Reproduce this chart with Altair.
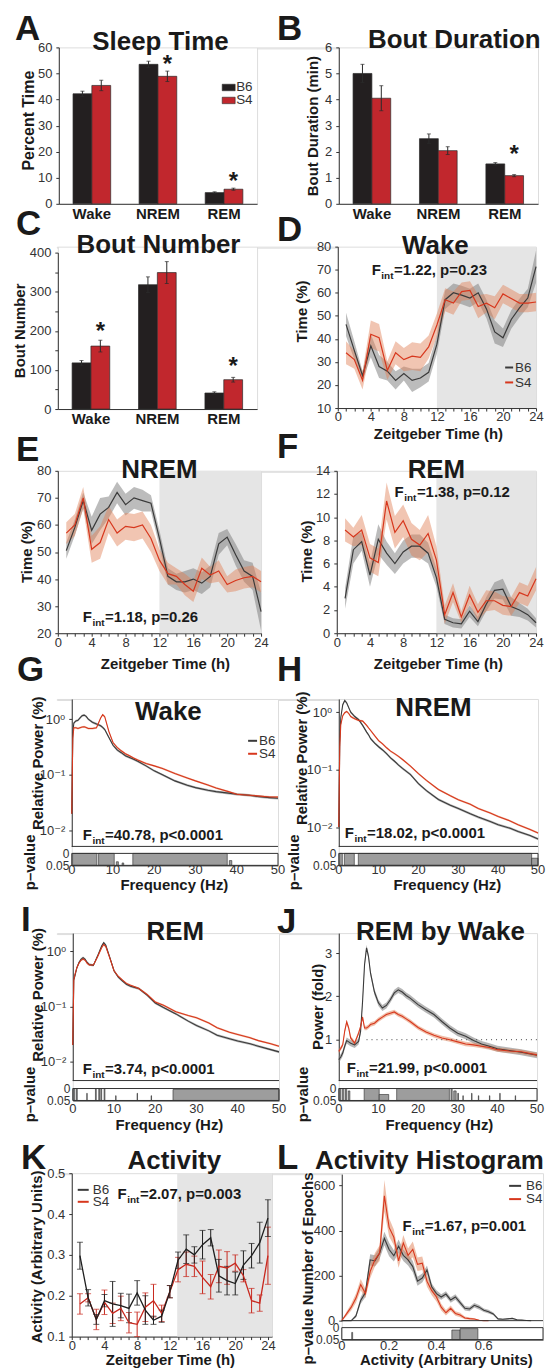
import altair as alt
import pandas as pd

FONT = "Liberation Sans"
LFONT = "Liberation Sans, DejaVu Sans"
INK = "#1a1a1a"
AXC = "#333333"
B6_BAR = "#231f20"
S4_BAR = "#c1272d"
B6_LINE = "#3a3a3a"
B6_BAND = "#7a7a7a"
S4_LINE = "#d7371d"
S4_BAND = "#e07f55"
SHADE = "#e5e5e5"
STRIP_FILL = "#9d9d9d"

# ---------------------------------------------------------------- data
states = ["Wake", "NREM", "REM"]
strains = ["B6", "S4"]

sleep_b6 = [42.2, 53.5, 4.3]
sleep_b6_err = [1.0, 1.2, 0.3]
sleep_s4 = [45.4, 48.9, 5.6]
sleep_s4_err = [2.0, 2.0, 0.4]
sleep_star = [None, 55.4, 10.7]

dur_b6 = [5.0, 2.5, 1.53]
dur_b6_err = [0.35, 0.18, 0.05]
dur_s4 = [4.05, 2.04, 1.08]
dur_s4_err = [0.48, 0.15, 0.04]
dur_star = [None, None, 2.1]

num_b6 = [118, 318, 41]
num_b6_err = [6, 20, 3]
num_s4 = [161, 349, 75]
num_s4_err = [15, 28, 6]
num_star = [211, None, 122]

zt_hours = [1, 2, 3, 4, 5, 6, 7, 8, 9, 10, 11, 12, 13, 14, 15, 16, 17, 18, 19, 20, 21, 22, 23, 24]
zt_ticks = [0, 1, 2, 3, 4, 5, 6, 7, 8, 9, 10, 11, 12, 13, 14, 15, 16, 17, 18, 19, 20, 21, 22, 23, 24]

wake_b6 = [46.3, 35, 24, 37, 28, 26, 22, 25, 22, 23, 25.5, 37.7, 57, 60, 59, 57.7, 60, 53, 43, 40.5, 48.4, 53.4, 57.7, 71.3]
wake_b6_sem = [5, 4, 2, 5, 5, 4, 4, 3, 5, 4, 4, 4, 4, 4, 4, 4, 4, 4, 5, 4, 4, 4, 4, 7]
wake_s4 = [34, 31, 22, 42, 40.5, 26.3, 34, 31, 32.5, 32, 36.5, 46, 57, 55.5, 60.5, 61, 54, 55.5, 53.5, 59.5, 57.5, 55.5, 55.5, 56]
wake_s4_sem = [5, 4, 4, 6, 6, 4, 5, 5, 6, 6, 5, 5, 5, 5, 4, 4, 5, 4, 5, 4, 4, 4, 4, 4]

nrem_b6 = [50.5, 59, 69, 58, 64, 66.5, 72, 67.5, 70, 69, 68, 55, 41, 39, 39, 40, 38.5, 41, 53, 55.5, 49, 43, 41, 28]
nrem_b6_sem = [3, 3, 3, 5, 6, 4, 4, 4, 4, 4, 3, 3, 3, 3, 4, 4, 4, 4, 4, 3, 4, 4, 5, 7]
nrem_s4 = [57, 60, 70, 51, 53.5, 62, 57, 59.5, 59, 60, 55, 47, 42, 41, 38, 35.5, 44, 41.5, 43, 38, 39.5, 40.5, 41, 39]
nrem_s4_sem = [4, 4, 4, 5, 6, 5, 5, 5, 5, 5, 5, 4, 4, 3, 4, 4, 4, 3, 4, 3, 4, 4, 4, 4]

rem_b6 = [3.0, 7.2, 7.9, 5.0, 8.1, 6.9, 6.0, 7.0, 7.5, 7.5, 6.9, 4.8, 1.2, 0.9, 0.8, 1.9, 1.0, 2.5, 3.7, 3.8, 2.3, 2.0, 1.6, 0.9]
rem_b6_sem = [0.9, 1.2, 0.8, 1.0, 1.3, 1.0, 0.9, 1.0, 1.0, 1.0, 0.9, 0.8, 0.4, 0.4, 0.4, 0.5, 0.4, 0.6, 0.7, 0.9, 0.8, 0.6, 0.5, 0.4]
rem_s4 = [8.9, 8.3, 8.9, 6.5, 6.1, 11.4, 8.7, 9.7, 8.1, 7.6, 8.6, 6.3, 1.6, 3.5, 1.4, 3.3, 1.8, 2.8, 2.8, 2.4, 2.3, 3.5, 3.2, 4.7]
rem_s4_sem = [1.0, 0.8, 1.3, 1.2, 1.2, 1.6, 1.4, 1.4, 1.4, 1.3, 1.6, 1.2, 0.8, 0.8, 0.5, 0.8, 0.7, 0.9, 0.8, 0.8, 0.8, 0.9, 0.9, 1.0]

spec_f = [0, 0.25, 0.5, 1, 1.5, 2, 2.5, 3, 3.5, 4, 5, 6, 7, 7.5, 8, 9, 10, 11, 12, 13, 14, 15, 16,
          18, 20, 22, 25, 28, 30, 33, 35, 38, 40, 43, 45, 48, 50]
wake_pow_b6 = [0.02, 0.55, 0.85, 0.93, 0.95, 1.05, 1.15, 1.18, 1.12, 1.0, 0.88, 0.82, 0.76, 0.71, 0.65, 0.47, 0.34,
               0.28, 0.25, 0.22, 0.205, 0.19, 0.175, 0.145, 0.118, 0.1, 0.078, 0.065, 0.059,
               0.053, 0.05, 0.047, 0.045, 0.043, 0.041, 0.039, 0.038]
wake_pow_s4 = [0.02, 0.45, 0.7, 0.7, 0.68, 0.7, 0.72, 0.73, 0.71, 0.68, 0.68, 0.7, 1.05, 1.2, 1.1, 0.6, 0.38,
               0.31, 0.27, 0.24, 0.22, 0.2, 0.185, 0.16, 0.145, 0.13, 0.106, 0.088, 0.078,
               0.066, 0.058, 0.05, 0.045, 0.043, 0.042, 0.04, 0.04]
nrem_pow_b6 = [0.01, 0.3, 0.8, 1.35, 1.6, 1.45, 1.2, 1.0, 0.92, 0.84, 0.74, 0.59, 0.45, 0.4, 0.345, 0.29, 0.25,
               0.22, 0.19, 0.16, 0.14, 0.12, 0.105, 0.082, 0.057, 0.043, 0.0302, 0.024, 0.021,
               0.017, 0.0149, 0.0125, 0.011, 0.0095, 0.0084, 0.0071, 0.0062]
nrem_pow_s4 = [0.01, 0.25, 0.6, 0.87, 0.98, 1.03, 0.95, 0.84, 0.8, 0.77, 0.72, 0.70, 0.59, 0.53, 0.48, 0.39, 0.32,
               0.28, 0.24, 0.21, 0.19, 0.17, 0.15, 0.115, 0.085, 0.065, 0.045, 0.035, 0.030,
               0.025, 0.021, 0.0175, 0.0153, 0.0128, 0.011, 0.0091, 0.0079]
rem_pow_b6 = [0.02, 0.3, 0.35, 0.5, 0.62, 0.71, 0.76, 0.71, 0.62, 0.57, 0.55, 0.81, 1.23, 1.41, 1.28, 0.76, 0.44,
              0.34, 0.29, 0.25, 0.23, 0.22, 0.21, 0.16, 0.115, 0.095, 0.073, 0.054, 0.045,
              0.036, 0.030, 0.026, 0.0236, 0.021, 0.019, 0.0165, 0.015]
rem_pow_s4 = [0.02, 0.3, 0.37, 0.5, 0.6, 0.68, 0.72, 0.68, 0.6, 0.56, 0.56, 0.78, 1.15, 1.32, 1.2, 0.74, 0.44,
              0.35, 0.3, 0.26, 0.24, 0.225, 0.21, 0.165, 0.12, 0.105, 0.08, 0.068, 0.062,
              0.05, 0.041, 0.034, 0.031, 0.027, 0.024, 0.021, 0.019]
pow_rel_sem_b6 = 0.05
pow_rel_sem_s4 = 0.04

ratio_f = [0, 0.5, 1, 1.5, 2, 2.5, 3, 4, 5, 5.5, 6, 6.5, 7, 7.5, 8, 9, 10, 11, 12, 13, 14, 15, 16, 17, 18,
           20, 22, 24, 26, 28, 30, 32, 34, 36, 38, 40, 43, 46, 50]
ratio_b6 = [0.54, 0.6, 0.69, 0.85, 0.98, 0.95, 0.92, 0.88, 0.96, 1.19, 1.88, 2.73, 3.12, 2.92, 2.54,
            2.1, 1.85, 1.73, 1.79, 1.92, 2.08, 2.15, 2.1, 2.02, 1.96,
            1.81, 1.69, 1.58, 1.42, 1.27, 1.15, 1.08, 0.98, 0.9, 0.85, 0.79, 0.75, 0.71, 0.64]
ratio_s4 = [0.73, 0.8, 0.88, 1.2, 1.41, 1.27, 1.04, 0.92, 1.15, 1.3, 1.52, 1.27, 1.27, 1.3, 1.35,
            1.38, 1.46, 1.52, 1.58, 1.61, 1.64, 1.58, 1.54, 1.48, 1.42,
            1.28, 1.18, 1.1, 1.04, 1.0, 0.95, 0.9, 0.88, 0.85, 0.82, 0.77, 0.74, 0.72, 0.65]
ratio_sem_b6 = 0.07
ratio_sem_s4 = 0.05
ratio_ref = [7, 50, 1]

freq_ticks = [0, 10, 20, 30, 40, 50]
freq_tick_labels = ["0", "10", "20", "30", "40", "50"]
act_ticks = [0, 0.2, 0.4, 0.6]
act_tick_labels = ["0", "0.2", "0.4", "0.6"]

wake_p_start = [0.2, 6.5, 10.8, 12.2, 14.8, 38.2]
wake_p_end = [6.1, 10.3, 11.3, 12.6, 37.7, 38.8]
wake_p_top = [0.0, 0.0, 0.035, 0.04, 0.0, 0.03]
nrem_p_start = [0.2, 1.4, 4.9, 48.4]
nrem_p_end = [0.9, 3.9, 48.4, 50]
nrem_p_top = [0.0, 0.0, 0.0, 0.02]
rem_p_start = [0.2, 0.9, 3.4, 5.5, 6.3, 6.8, 7.6, 10.4, 15.6, 19.0, 24.3]
rem_p_end = [0.5, 1.1, 3.5, 5.7, 6.5, 7.0, 7.8, 10.5, 15.7, 19.1, 50]
rem_p_top = [0.0, 0.0, 0.02, 0.0, 0.0, 0.0, 0.0, 0.03, 0.02, 0.03, 0.004]
ratio_p_start = [0.2, 0.9, 1.7, 2.4, 6.4, 10.2, 14.6, 28.3, 29.0, 30.0, 31.3, 33.5, 35.2, 38.0, 40.6, 44.5]
ratio_p_end = [0.5, 1.3, 2.0, 2.8, 10.2, 12.6, 27.9, 28.6, 29.6, 30.2, 31.4, 33.6, 35.3, 38.1, 40.7, 44.6]
ratio_p_top = [0.0, 0.0, 0.0, 0.01, 0.0, 0.025, 0.0, 0.0, 0.01, 0.02, 0.03, 0.02, 0.03, 0.03, 0.02, 0.03]

act_b6 = [0.298, 0.195, 0.142, 0.188, 0.18, 0.176, 0.169, 0.207, 0.165, 0.14, 0.15, 0.21,
          0.287, 0.314, 0.3, 0.325, 0.342, 0.249, 0.237, 0.23, 0.275, 0.298, 0.33, 0.39]
act_b6_sem = [0.033, 0.02, 0.012, 0.015, 0.055, 0.03, 0.035, 0.03, 0.035, 0.01, 0.015, 0.015,
              0.02, 0.035, 0.02, 0.035, 0.02, 0.04, 0.035, 0.028, 0.035, 0.03, 0.05, 0.045]
act_s4 = [0.18, 0.195, 0.142, 0.184, 0.157, 0.169, 0.134, 0.13, 0.172, 0.188, 0.157, 0.21,
          0.264, 0.277, 0.272, 0.245, 0.222, 0.272, 0.268, 0.28, 0.249, 0.188, 0.182, 0.298]
act_s4_sem = [0.025, 0.01, 0.025, 0.03, 0.025, 0.03, 0.025, 0.03, 0.035, 0.04, 0.02, 0.015,
              0.03, 0.03, 0.025, 0.04, 0.03, 0.04, 0.04, 0.02, 0.015, 0.03, 0.02, 0.07]

hist_x_b6 = [0.00, 0.02, 0.04, 0.06, 0.08, 0.10, 0.12, 0.14, 0.16, 0.18, 0.20, 0.22, 0.24, 0.26, 0.28,
             0.30, 0.32, 0.34, 0.36, 0.38, 0.40, 0.42, 0.44, 0.46, 0.48, 0.50, 0.52, 0.54, 0.56, 0.58,
             0.60, 0.62, 0.64, 0.66, 0.68, 0.70, 0.72, 0.74, 0.76, 0.78, 0.80]
hist_b6 = [0, 0, 0, 21, 90, 125, 270, 265, 300, 365, 316, 288, 330, 290, 270,
           240, 175, 189, 225, 150, 120, 105, 118, 92, 105, 80, 55, 52, 68, 60,
           46, 40, 30, 8, 6, 8, 10, 4, 3, 1, 0]
hist_b6_sem = [0, 0, 0, 8, 15, 20, 25, 25, 25, 30, 30, 25, 30, 25, 25,
               25, 20, 20, 20, 15, 15, 12, 12, 12, 12, 12, 10, 10, 10, 10,
               8, 8, 6, 4, 3, 3, 3, 2, 1, 1, 0]
hist_x_s4 = [0.00, 0.02, 0.04, 0.06, 0.08, 0.10, 0.12, 0.14, 0.16, 0.18, 0.20, 0.22, 0.24, 0.26, 0.28,
             0.30, 0.32, 0.34, 0.36, 0.38, 0.40, 0.42, 0.44, 0.46, 0.48, 0.50, 0.52, 0.54, 0.56, 0.58,
             0.60, 0.62]
hist_s4 = [0, 30, 60, 100, 160, 120, 218, 270, 300, 554, 414, 370, 265, 345, 290,
           316, 250, 255, 175, 133, 105, 60, 35, 55, 32, 25, 12, 9, 7, 2, 0, 0]
hist_s4_sem = [0, 10, 15, 20, 25, 20, 30, 30, 35, 70, 40, 35, 30, 35, 30,
               35, 30, 30, 25, 20, 20, 15, 12, 12, 10, 10, 6, 5, 4, 2, 0, 0]
hist_p_start = [0.042, 0.465, 0.50]
hist_p_end = [0.046, 0.50, 0.575]
hist_p_top = [0.02, 0.01, 0.004]

# ---------------------------------------------------------------- helpers
ONE = pd.DataFrame({"k": [0]})


def T(x0, y0, px, py, s, size=15, weight="bold", align="left", baseline="alphabetic", angle=0, color=INK):
    return alt.Chart(ONE).mark_text(
        text=s, font=FONT, fontSize=size, fontWeight=weight, align=align,
        baseline=baseline, angle=angle, color=color
    ).encode(x=alt.value(px - x0), y=alt.value(py - y0))


def ytitle(x0, y0, px, py, s, size=15):
    return T(x0, y0, px, py, s, size=size, align="center", baseline="middle", angle=270)


def xtitle(x0, y0, px, py, s):
    return T(x0, y0, px, py, s, align="center")


def ptitle(x0, y0, px, py, s):
    return T(x0, y0, px, py, s, size=26, align="center")


def letter(x0, y0, px, py, s):
    return T(x0, y0, px, py, s, size=35)


def fint(x0, y0, px, py, rest):
    return [T(x0, y0, px, py, "F"), T(x0, y0, px + 9.7, py + 4, "int", size=10),
            T(x0, y0, px + 22.4, py, rest)]


def seg(x0, y0, px1, px2, py1, py2, color=AXC, width=1.0, dash=None, opacity=1.0):
    kw = dict(color=color, strokeWidth=width, opacity=opacity)
    if dash:
        kw["strokeDash"] = dash
    return alt.Chart(ONE).mark_rule(**kw).encode(
        x=alt.value(px1 - x0), x2=alt.value(px2 - x0),
        y=alt.value(py1 - y0), y2=alt.value(py2 - y0))


def anchor(x0, y0, top, bottom):
    return seg(x0, y0, 8, 8, top, bottom, opacity=0)


def box(x0, y0, px1, px2, py1, py2, fill, stroke=None, sw=0.8, fo=1.0):
    kw = dict(fill=fill, fillOpacity=fo)
    if stroke:
        kw.update(stroke=stroke, strokeWidth=sw)
    return alt.Chart(ONE).mark_rect(**kw).encode(
        x=alt.value(px1 - x0), x2=alt.value(px2 - x0),
        y=alt.value(py1 - y0), y2=alt.value(py2 - y0))


def legend_lines(x0, y0, lx1, lx2, ly1, ly2, tx, tb1, tb2):
    return [seg(x0, y0, lx1, lx2, ly1, ly1, color=B6_LINE, width=2),
            seg(x0, y0, lx1, lx2, ly2, ly2, color=S4_LINE, width=2),
            T(x0, y0, tx, tb1, "B6", size=13.5, weight="normal", color=AXC),
            T(x0, y0, tx, tb2, "S4", size=13.5, weight="normal", color=AXC)]


def spacer(w):
    return alt.Chart(ONE).mark_point(opacity=0).encode(
        x=alt.value(0), y=alt.value(0)).properties(width=w, height=1)


def yaxis(values, expr=None, fmt=None, pad=4):
    kw = dict(title=None, values=values, grid=False, tickSize=3, labelPadding=pad, labelFontSize=13,
              labelColor=AXC, labelFont=LFONT, domainColor=AXC, tickColor=AXC, labelOverlap=False,
              orient="left")
    if expr:
        kw["labelExpr"] = expr
    if fmt:
        kw["format"] = fmt
    return alt.Axis(**kw)


def xaxis(values, expr=None, ticks=True, labels=True):
    kw = dict(title=None, values=values, grid=False, ticks=ticks, tickSize=3 if ticks else 0,
              labels=labels, labelPadding=0, labelFontSize=13, labelColor=AXC, labelFont=LFONT,
              domainColor=AXC, tickColor=AXC, labelOverlap=False, labelFlush=False)
    if expr:
        kw["labelExpr"] = expr
    return alt.Axis(**kw)


def mk_df(xs, m, lo, hi):
    return pd.DataFrame({"x": xs, "m": m, "lo": lo, "hi": hi})


def band_line(df, X, ys, yax, band_color, line_color, band_op=0.45, lw=1.2):
    b = alt.Chart(df).mark_area(color=band_color, opacity=band_op).encode(
        x=X, y=alt.Y("lo:Q", scale=ys, axis=yax), y2="hi:Q")
    ln = alt.Chart(df).mark_line(color=line_color, strokeWidth=lw).encode(
        x=X, y=alt.Y("m:Q", scale=ys, axis=yax))
    return b, ln


def bar_panel(x0, y0, w, off, h, b6, b6e, s4, s4e, stars, ydom, yvals, yexpr, extra):
    rows = []
    for i, st in enumerate(states):
        rows.append({"state": st, "strain": "B6", "m": b6[i], "lo": b6[i] - b6e[i], "hi": b6[i] + b6e[i]})
        rows.append({"state": st, "strain": "S4", "m": s4[i], "lo": s4[i] - s4e[i], "hi": s4[i] + s4e[i]})
    df = pd.DataFrame(rows)
    sdf = pd.DataFrame([{"state": st, "strain": "S4", "v": v} for st, v in zip(states, stars) if v is not None])
    X = alt.X("state:N", scale=alt.Scale(domain=states, paddingInner=0.43, paddingOuter=0.215),
              axis=alt.Axis(title=None, labelAngle=0, labelFontSize=15, labelFontWeight="bold",
                            labelColor=INK, labelFont=FONT, ticks=False, tickSize=0, labelPadding=3,
                            domainColor=AXC))
    XO = alt.XOffset("strain:N", scale=alt.Scale(domain=strains, paddingInner=0, paddingOuter=0))
    ys = alt.Scale(domain=ydom, range=[off + h, off], nice=False)
    yax = yaxis(yvals, expr=yexpr)
    bars = alt.Chart(df).mark_bar(stroke="#2b2b2b", strokeWidth=0.7).encode(
        x=X, xOffset=XO, y=alt.Y("m:Q", scale=ys, axis=yax),
        color=alt.Color("strain:N", scale=alt.Scale(domain=strains, range=[B6_BAR, S4_BAR]), legend=None))
    err = alt.Chart(df).mark_rule(color="#2b2b2b", strokeWidth=1).encode(
        x=X, xOffset=XO, y=alt.Y("lo:Q", scale=ys, axis=yax), y2="hi:Q")
    cap_hi = alt.Chart(df).mark_tick(color="#2b2b2b", orient="horizontal", size=4, thickness=1).encode(
        x=X, xOffset=XO, y=alt.Y("hi:Q", scale=ys, axis=yax))
    cap_lo = alt.Chart(df).mark_tick(color="#2b2b2b", orient="horizontal", size=4, thickness=1).encode(
        x=X, xOffset=XO, y=alt.Y("lo:Q", scale=ys, axis=yax))
    star = alt.Chart(sdf).mark_text(text="*", font=FONT, fontSize=24, fontWeight="bold", color=INK,
                                    baseline="alphabetic", dy=13).encode(
        x=X, xOffset=XO, y=alt.Y("v:Q", scale=ys, axis=yax))
    return alt.layer(bars, err, cap_hi, cap_lo, star, *extra).properties(width=w, height=off + h)


def zt_panel(x0, y0, w, off, h, b6, b6e, s4, s4e, ydom, yvals, extra):
    xs = alt.Scale(domain=[0, 24], nice=False, zero=False)
    X = alt.X("x:Q", scale=xs, axis=xaxis(zt_ticks, expr="datum.value % 4 == 0 ? datum.label : ''"))
    ys = alt.Scale(domain=ydom, range=[off + h, off], nice=False, zero=False, clamp=True)
    yax = yaxis(yvals)
    shade = alt.Chart(pd.DataFrame({"x": [12], "x2": [24]})).mark_rect(color=SHADE).encode(
        x=X, x2="x2:Q", y=alt.value(off), y2=alt.value(off + h))
    d6 = mk_df(zt_hours, b6, [a - e for a, e in zip(b6, b6e)], [a + e for a, e in zip(b6, b6e)])
    d4 = mk_df(zt_hours, s4, [a - e for a, e in zip(s4, s4e)], [a + e for a, e in zip(s4, s4e)])
    b6b, b6l = band_line(d6, X, ys, yax, B6_BAND, B6_LINE, band_op=0.5)
    s4b, s4l = band_line(d4, X, ys, yax, S4_BAND, S4_LINE, band_op=0.45)
    return alt.layer(shade, b6b, s4b, b6l, s4l, *extra).properties(width=w, height=off + h)


def spec_panel(x0, y0, w, off, h, gap, sh, xdom, xvals, xlabels, lab_dy, d6, d4, ylog, ydom, yvals,
               yexpr, yfmt, pstart, pend, ptop, main_extra, extra):
    xs = alt.Scale(domain=xdom, nice=False, zero=False)
    X = alt.X("x:Q", scale=xs, axis=xaxis(xvals, ticks=False, labels=False))
    ykw = dict(domain=ydom, range=[off + h, off], nice=False, clamp=True)
    if ylog:
        ykw["type"] = "log"
    else:
        ykw["zero"] = False
    ys = alt.Scale(**ykw)
    yax = yaxis(yvals, expr=yexpr, fmt=yfmt)
    b6b, b6l = band_line(d6, X, ys, yax, B6_BAND, B6_LINE, band_op=0.55, lw=1.1)
    s4b, s4l = band_line(d4, X, ys, yax, S4_BAND, S4_LINE, band_op=0.5, lw=1.1)
    extras_main = [f(X, ys, yax) for f in main_extra]
    main = alt.layer(b6b, s4b, *extras_main, b6l, s4l)
    pdf = pd.DataFrame({"x": pstart, "x2": pend, "p": ptop, "pb": [0.05 for _ in pstart]})
    ss = alt.Scale(domain=[0, 0.05], range=[off + h + gap, off + h + gap + sh], nice=False, zero=False)
    sax = alt.Axis(title=None, orient="left", values=[0, 0.05],
                   labelExpr="datum.value == 0 ? '0' : '0.05'", ticks=False, tickSize=0, domain=False,
                   labelOverlap=False, labelPadding=3, labelFontSize=12, labelColor=AXC,
                   labelFont=LFONT, grid=False)
    strip = alt.Chart(pdf).mark_rect(fill=STRIP_FILL, stroke="#2a2a2a", strokeWidth=0.6).encode(
        x=X, x2="x2:Q", y=alt.Y("p:Q", scale=ss, axis=sax), y2="pb:Q")
    frame = box(0, 0, 0, w, off + h + gap, off + h + gap + sh, fill="white", stroke=AXC, sw=1, fo=0)
    strip_layer = alt.layer(strip, frame)
    base = seg(0, 0, 0, w, off + h, off + h, color=AXC, width=1)
    tick_lab = alt.Chart(pd.DataFrame({"x": xvals, "lab": xlabels})).mark_text(
        font=LFONT, fontSize=13, color=AXC, align="center", baseline="alphabetic").encode(
        x=X, y=alt.value(off + h + gap + sh + lab_dy), text="lab:N")
    return alt.layer(main, strip_layer, base, tick_lab, *extra).resolve_scale(y="independent").properties(
        width=w, height=off + h + gap + sh)


def rel_df(xs, m, frac):
    return mk_df(xs, m, [v * (1 - frac) for v in m], [v * (1 + frac) for v in m])


def abs_df(xs, m, e):
    return mk_df(xs, m, [v - e for v in m], [v + e for v in m])


def list_df(xs, m, e):
    return mk_df(xs, m, [a - b for a, b in zip(m, e)], [a + b for a, b in zip(m, e)])


LOG_EXPR = "datum.value >= 0.5 ? '10\u2070' : datum.value >= 0.05 ? '10\u207b\u00b9' : '10\u207b\u00b2'"

# vertical tiles for each row (page coords): top, bottom of invisible anchors
TILE = {1: (8, 240), 2: (180, 462), 3: (402, 687), 4: (627, 918), 5: (858, 1158), 6: (1098, 1358)}
X_BASE = 56

# ---------------------------------------------------------------- panels
# A
x0, y0 = 58, 44
A = bar_panel(x0, y0, 199, 0, 157, sleep_b6, sleep_b6_err, sleep_s4, sleep_s4_err, sleep_star,
              [0, 60], [0, 10, 20, 30, 40, 50, 60], None,
              [anchor(x0, y0, *TILE[1]), letter(x0, y0, 14, 36.7, "A"),
               ptitle(x0, y0, 160, 46.7, "Sleep Time"),
               ytitle(x0, y0, 28, 117.5, "Percent Time", size=16),
               box(x0, y0, 222, 235, 81, 87.5, B6_BAR, stroke="#2b2b2b", sw=0.6),
               box(x0, y0, 222, 235, 94, 100.5, S4_BAR, stroke="#2b2b2b", sw=0.6),
               T(x0, y0, 236, 88, "B6", size=13.5, weight="normal", color=AXC),
               T(x0, y0, 236, 101, "S4", size=13.5, weight="normal", color=AXC)])

# B
x0, y0 = 339, 44
B = bar_panel(x0, y0, 200, 0, 157, dur_b6, dur_b6_err, dur_s4, dur_s4_err, dur_star,
              [0, 6], [0, 1, 2, 3, 4, 5, 6], None,
              [letter(x0, y0, 277, 36.7, "B"),
               ptitle(x0, y0, 455, 44.3, "Bout Duration"),
               ytitle(x0, y0, 313.5, 123, "Bout Duration (min)")])

# C
x0, y0 = 57, 242
C = bar_panel(x0, y0, 200, 6, 157, num_b6, num_b6_err, num_s4, num_s4_err, num_star,
              [0, 400], [0, 50, 100, 150, 200, 250, 300, 350, 400],
              "datum.value % 100 == 0 ? datum.label : ''",
              [anchor(x0, y0, *TILE[2]), letter(x0, y0, 15, 230, "C"),
               ptitle(x0, y0, 158, 248.3, "Bout Number"),
               ytitle(x0, y0, 19.5, 326.5, "Bout Number")])

# D
x0, y0 = 338, 242
D = zt_panel(x0, y0, 199, 0, 162, wake_b6, wake_b6_sem, wake_s4, wake_s4_sem, [10, 80],
             [10, 20, 30, 40, 50, 60, 70, 80],
             [letter(x0, y0, 277, 236, "D"), ptitle(x0, y0, 436, 249.3, "Wake"),
              *fint(x0, y0, 372, 270, "=1.22, p=0.23"),
              *legend_lines(x0, y0, 506, 514, 363.3, 378.3, 516, 368, 383),
              xtitle(x0, y0, 439, 435, "Zeitgeber Time (h)"),
              ytitle(x0, y0, 302, 307, "Time (%)")])

# E
x0, y0 = 57, 465
E = zt_panel(x0, y0, 204, 0, 163, nrem_b6, nrem_b6_sem, nrem_s4, nrem_s4_sem, [20, 80],
             [20, 30, 40, 50, 60, 70, 80],
             [anchor(x0, y0, *TILE[3]), letter(x0, y0, 15, 455, "E"), ptitle(x0, y0, 159, 472.7, "NREM"),
              *fint(x0, y0, 82, 616.7, "=1.18, p=0.26"),
              xtitle(x0, y0, 165, 664, "Zeitgeber Time (h)"),
              ytitle(x0, y0, 26.5, 546.5, "Time (%)")])

# F
x0, y0 = 337, 465
F = zt_panel(x0, y0, 200, 0, 163, rem_b6, rem_b6_sem, rem_s4, rem_s4_sem, [0, 14],
             [0, 2, 4, 6, 8, 10, 12, 14],
             [letter(x0, y0, 277, 452, "F"), ptitle(x0, y0, 437, 472.3, "REM"),
              *fint(x0, y0, 395, 491.7, "=1.38, p=0.12"),
              xtitle(x0, y0, 439, 664, "Zeitgeber Time (h)"),
              ytitle(x0, y0, 307, 546, "Time (%)")])

# G
x0, y0 = 71, 692
G = spec_panel(x0, y0, 207, 0, 148, 7, 12, [0, 50], freq_ticks, freq_tick_labels, 9,
               rel_df(spec_f, wake_pow_b6, pow_rel_sem_b6), rel_df(spec_f, wake_pow_s4, pow_rel_sem_s4),
               True, [0.0052, 2.3], [0.01, 0.1, 1], LOG_EXPR, None,
               wake_p_start, wake_p_end, wake_p_top, [],
               [anchor(x0, y0, *TILE[4]), letter(x0, y0, 16, 674, "G"), ptitle(x0, y0, 168, 713.3, "Wake"),
                *fint(x0, y0, 82, 833.3, "=40.78, p<0.0001"),
                *legend_lines(x0, y0, 248, 257, 734, 747, 259, 738.5, 751.5),
                xtitle(x0, y0, 174, 884, "Frequency (Hz)"),
                ytitle(x0, y0, 37, 756.5, "Relative Power (%)"),
                ytitle(x0, y0, 29, 856, "p\u2013value")])

# H
x0, y0 = 339, 692
H = spec_panel(x0, y0, 200, 0, 148, 7, 12, [0, 50], freq_ticks, freq_tick_labels, 9,
               rel_df(spec_f, nrem_pow_b6, pow_rel_sem_b6), rel_df(spec_f, nrem_pow_s4, pow_rel_sem_s4),
               True, [0.0046, 1.7], [0.01, 0.1, 1], LOG_EXPR, None,
               nrem_p_start, nrem_p_end, nrem_p_top, [],
               [letter(x0, y0, 277, 674, "H"), ptitle(x0, y0, 434, 709.3, "NREM"),
                *fint(x0, y0, 345, 831.7, "=18.02, p<0.0001"),
                xtitle(x0, y0, 448, 884, "Frequency (Hz)"),
                ytitle(x0, y0, 302, 751.5, "Relative Power (%)"),
                ytitle(x0, y0, 294, 856, "p\u2013value")])

# I
x0, y0 = 72, 925
I = spec_panel(x0, y0, 207, 0, 148, 8, 12, [0, 50], freq_ticks, freq_tick_labels, 12.5,
               rel_df(spec_f, rem_pow_b6, pow_rel_sem_b6), rel_df(spec_f, rem_pow_s4, pow_rel_sem_s4),
               True, [0.00455, 2.11], [0.01, 0.1, 1], LOG_EXPR, None,
               rem_p_start, rem_p_end, rem_p_top, [],
               [anchor(x0, y0, *TILE[5]), letter(x0, y0, 20, 923, "I"), ptitle(x0, y0, 175, 931.7, "REM"),
                *fint(x0, y0, 82, 1066, "=3.74, p<0.0001"),
                xtitle(x0, y0, 169, 1123, "Frequency (Hz)"),
                ytitle(x0, y0, 37, 987, "Relative Power (%)"),
                ytitle(x0, y0, 29, 1087, "p\u2013value")])


def ratio_ref_layer(X, ys, yax):
    df = pd.DataFrame({"x": [ratio_ref[0]], "x2": [ratio_ref[1]], "yv": [ratio_ref[2]]})
    return alt.Chart(df).mark_rule(color="#444444", strokeWidth=1, strokeDash=[1, 4]).encode(
        x=X, x2="x2:Q", y=alt.Y("yv:Q", scale=ys, axis=yax))


# J
x0, y0 = 339, 925
J = spec_panel(x0, y0, 199, 0, 148, 8, 12, [0, 50], freq_ticks, freq_tick_labels, 12.5,
               abs_df(ratio_f, ratio_b6, ratio_sem_b6), abs_df(ratio_f, ratio_s4, ratio_sem_s4),
               False, [0.057, 3.46], [1, 2, 3], None, "d",
               ratio_p_start, ratio_p_end, ratio_p_top, [ratio_ref_layer],
               [letter(x0, y0, 277, 925, "J"), ptitle(x0, y0, 441, 931.7, "REM by Wake"),
                *fint(x0, y0, 347, 1065, "=21.99, p<0.0001"),
                xtitle(x0, y0, 440, 1123, "Frequency (Hz)"),
                ytitle(x0, y0, 318, 999, "Power (fold)"),
                ytitle(x0, y0, 303, 1087, "p\u2013value")])

# K
x0, y0 = 71, 1164
kw_, kh = 201, 164
kxs = alt.Scale(domain=[0, 24.5], nice=False, zero=False)
KX = alt.X("x:Q", scale=kxs, axis=xaxis(zt_ticks, expr="datum.value % 4 == 0 ? datum.label : ''"))
kys = alt.Scale(domain=[0.1, 0.5], range=[kh, 0], nice=False, zero=False, clamp=True)
kyax = yaxis([0.1, 0.2, 0.3, 0.4, 0.5], fmt=".1f")
k6 = list_df(zt_hours, act_b6, act_b6_sem)
k4 = list_df(zt_hours, act_s4, act_s4_sem)
kshade = alt.Chart(pd.DataFrame({"x": [12.9], "x2": [24.5]})).mark_rect(color=SHADE).encode(
    x=KX, x2="x2:Q", y=alt.value(0), y2=alt.value(kh))


def k_err(df, color):
    r = alt.Chart(df).mark_rule(color=color, strokeWidth=1).encode(
        x=KX, y=alt.Y("lo:Q", scale=kys, axis=kyax), y2="hi:Q")
    c1 = alt.Chart(df).mark_tick(color=color, orient="horizontal", size=6, thickness=1).encode(
        x=KX, y=alt.Y("lo:Q", scale=kys, axis=kyax))
    c2 = alt.Chart(df).mark_tick(color=color, orient="horizontal", size=6, thickness=1).encode(
        x=KX, y=alt.Y("hi:Q", scale=kys, axis=kyax))
    ln = alt.Chart(df).mark_line(color=color, strokeWidth=1.3).encode(
        x=KX, y=alt.Y("m:Q", scale=kys, axis=kyax))
    return [r, c1, c2], ln


k4e, k4l = k_err(k4, "#c8281e")
k6e, k6l = k_err(k6, "#1e1e1e")
K = alt.layer(kshade, *k4e, *k6e, k4l, k6l,
              anchor(x0, y0, *TILE[6]), letter(x0, y0, 20, 1160, "K"),
              ptitle(x0, y0, 174, 1160, "Activity"),
              *fint(x0, y0, 117, 1190, "=2.07, p=0.003"),
              *legend_lines(x0, y0, 77, 88, 1180.7, 1192.7, 92, 1185, 1197),
              xtitle(x0, y0, 170, 1357, "Zeitgeber Time (h)"),
              ytitle(x0, y0, 36.5, 1248, "Activity (Arbitrary Units)")).properties(width=kw_, height=kh)

# L
x0, y0 = 342, 1164
L = spec_panel(x0, y0, 202, 1, 147, 7, 12, [0, 0.85], act_ticks, act_tick_labels, 10.5,
               list_df(hist_x_b6, hist_b6, hist_b6_sem), list_df(hist_x_s4, hist_s4, hist_s4_sem),
               False, [0, 650], [0, 200, 400, 600], None, "d",
               hist_p_start, hist_p_end, hist_p_top, [],
               [letter(x0, y0, 277, 1160, "L"), ptitle(x0, y0, 430, 1160, "Activity Histogram"),
                *fint(x0, y0, 403, 1221.7, "=1.67, p=0.001"),
                *legend_lines(x0, y0, 510, 522, 1176.7, 1190, 527, 1181, 1194),
                xtitle(x0, y0, 447, 1357, "Activity (Arbitrary Units)"),
                ytitle(x0, y0, 308.5, 1230, "Number of Epochs"),
                ytitle(x0, y0, 308, 1328, "p\u2013value")])


def row(left, lx, lw, right, rx):
    return alt.hconcat(spacer(lx - X_BASE), left, spacer(rx - (lx + lw)), right,
                       spacing=0, bounds="flush")


rows = [
    row(A, 58, 199, B, 339),
    row(C, 57, 200, D, 338),
    row(E, 57, 204, F, 337),
    row(G, 71, 207, H, 339),
    row(I, 72, 207, J, 339),
    row(K, 71, 201, L, 342),
]

chart = alt.vconcat(*rows, spacing=-60).properties(padding=0).configure_view(stroke=None).configure(
    font=FONT)

chart.save("out.html", embed_options={"renderer": "svg", "actions": False})
